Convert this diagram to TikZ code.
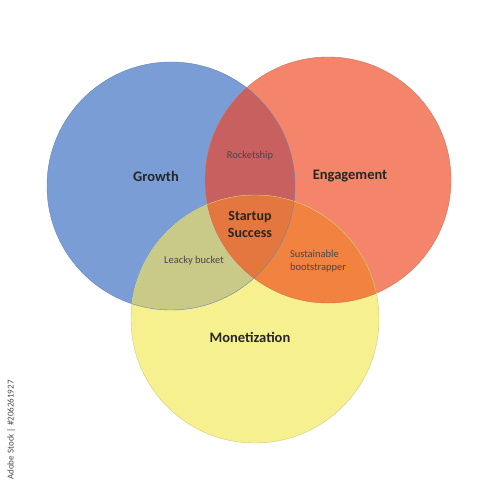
\documentclass[tikz,border=0pt]{standalone}
\usepackage{fontspec}
\setmainfont{Carlito}
\definecolor{cA}{HTML}{7B9DD6}
\definecolor{cB}{HTML}{F4856A}
\definecolor{cC}{HTML}{F6F08E}
\definecolor{cAB}{HTML}{C8605F}
\definecolor{cAC}{HTML}{C9CA88}
\definecolor{cBC}{HTML}{F2823F}
\definecolor{cABC}{HTML}{E4773F}
\definecolor{txt}{HTML}{262626}
\tikzset{
  big/.style={font=\bfseries\fontsize{14.5}{16}\selectfont, text=txt, align=center},
  small/.style={font=\fontsize{10.5}{13.5}\selectfont, text=txt!85, align=left},
}
\begin{document}
\begin{tikzpicture}[x=1pt,y=-1pt]
\useasboundingbox[fill=white] (0,0) rectangle (500,500);
\def\cA{(171,186) circle (124)}
\def\cB{(328,180) circle (123)}
\def\cC{(255,319) circle (124)}
\fill[cA] \cA;
\fill[cB] \cB;
\fill[cC] \cC;
\begin{scope}\clip \cA; \fill[cAB] \cB; \fill[cAC] \cC; \end{scope}
\begin{scope}\clip \cB; \fill[cBC] \cC; \end{scope}
\begin{scope}\clip \cA; \clip \cB; \fill[cABC] \cC; \end{scope}
\draw[cA!85!black, line width=0.4] \cA;
\draw[cB!85!black, line width=0.4] \cB;
\draw[cC!85!black, line width=0.4] \cC;
\node[big] (g) at (156,176) {Growth};
\node[big] (e) at (350,176) {Engagement};
\node[big] (m) at (250,337) {Monetization};
\node[big, font=\bfseries\fontsize{14}{17}\selectfont] (s) at (250,224) {Startup\\Success};
\node[small] (r) at (250,156) {Rocketship};
\node[small] (l) at (194,261) {Leacky bucket};
\node[small] (b) at (318,261) {Sustainable\\bootstrapper};
\node[font=\fontsize{9}{10}\selectfont, text=black!70, rotate=90] (w) at (11,430) {Adobe Stock | \#206261927};
\end{tikzpicture}
\end{document}
